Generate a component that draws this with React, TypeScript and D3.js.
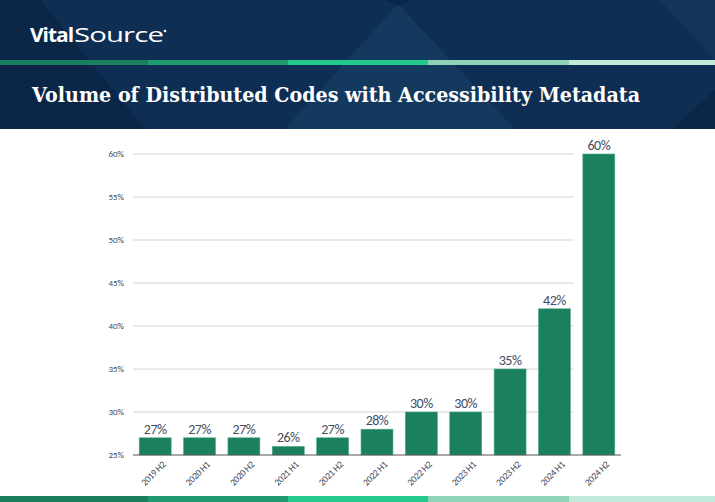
import React from "react";
import * as d3 from "d3";

const categories = ["2019 H2", "2020 H1", "2020 H2", "2021 H1", "2021 H2", "2022 H1", "2022 H2", "2023 H1", "2023 H2", "2024 H1", "2024 H2"];
const values = [27, 27, 27, 26, 27, 28, 30, 30, 35, 42, 60];
const yTicks = [25, 30, 35, 40, 45, 50, 55, 60];
const stripeColors = ["#1a7f5e", "#1f9a6e", "#24c98e", "#8fd3b8", "#c2e8da"];
const stripeStops = [0, 148, 288, 428, 569, 715];

const W = 715;
const H = 502;

export default function App() {
  const x = d3.scaleBand<string>().domain(categories).range([133, 621]).paddingInner(0.28).paddingOuter(0.14);
  const y = d3.scaleLinear().domain([25, 60]).range([455, 154]);
  const gridEnd = 574;
  const fontSans = "Calibri, Carlito, 'Liberation Sans', Arial, sans-serif";

  const stripe = (y0: number, h: number, key: string) =>
    stripeColors.map((c, i) => (
      <rect key={key + i} x={stripeStops[i]} y={y0} width={stripeStops[i + 1] - stripeStops[i]} height={h} fill={c} />
    ));

  return (
    <svg width={W} height={H} style={{ position: "absolute", left: 0, top: 0, display: "block" }} xmlns="http://www.w3.org/2000/svg">
      <rect x={0} y={0} width={W} height={H} fill="#ffffff" />
      {/* header */}
      <rect x={0} y={0} width={W} height={129} fill="#0f2e53" />
      <polygon points="0,0 40,0 145,129 0,129" fill="#0b2646" />
      <polygon points="398,4 515,129 285,129" fill="#14395f" />
      <polygon points="385,0 412,0 398,6" fill="#0b2646" />
      <polygon points="715,90 715,129 672,129" fill="#0b2646" />
      <polygon points="660,0 715,0 715,60" fill="#123559" />
      <text x={30} y={42} fill="#ffffff" fontFamily="'Open Sans', 'Noto Sans', sans-serif" fontWeight={700} fontSize={20} letterSpacing={-1} textLength={43} lengthAdjust="spacingAndGlyphs">Vital</text>
      <text x={74} y={42} fill="#ffffff" fontFamily="'Open Sans', 'Noto Sans', sans-serif" fontWeight={400} fontSize={20} letterSpacing={-0.6} textLength={89} lengthAdjust="spacingAndGlyphs">Source</text>
      <circle cx={165} cy={31} r={1.3} fill="#ffffff" />
      {stripe(60, 5, "t")}
      <text x={32} y={102} fill="#ffffff" fontFamily="'DejaVu Serif', 'Liberation Serif', serif" fontWeight={700} fontSize={21} textLength={608} lengthAdjust="spacingAndGlyphs">Volume of Distributed Codes with Accessibility Metadata</text>

      {/* grid */}
      {yTicks.map((t) => (
        <g key={"g" + t}>
          {t !== 25 && <line x1={133} x2={gridEnd} y1={y(t)} y2={y(t)} stroke="#d4d4d4" strokeWidth={1} />}
          <text x={124} y={y(t) + 3} textAnchor="end" fontFamily={fontSans} fontSize={9} fill="#404a5a">{t}%</text>
        </g>
      ))}

      {/* bars */}
      {categories.map((c, i) => (
        <g key={c}>
          <rect x={x(c)} y={y(values[i])} width={x.bandwidth()} height={y(25) - y(values[i])} fill="#1b8060" stroke="#4fa887" strokeWidth={0.6} />
          <text x={(x(c) as number) + x.bandwidth() / 2} y={y(values[i]) - 4} textAnchor="middle" fontFamily={fontSans} fontSize={14} letterSpacing={-0.5} fill="#414b5e">{values[i]}%</text>
          <text transform={`translate(${(x(c) as number) + x.bandwidth() / 2 + 11},${y(25) + 10}) rotate(-45)`} textAnchor="end" fontFamily={fontSans} fontSize={9.5} letterSpacing={-0.3} fill="#404a5a">{c}</text>
        </g>
      ))}
      <line x1={133} x2={621} y1={y(25)} y2={y(25)} stroke="#555555" strokeWidth={1.2} />

      {stripe(496, 6, "b")}
    </svg>
  );
}
